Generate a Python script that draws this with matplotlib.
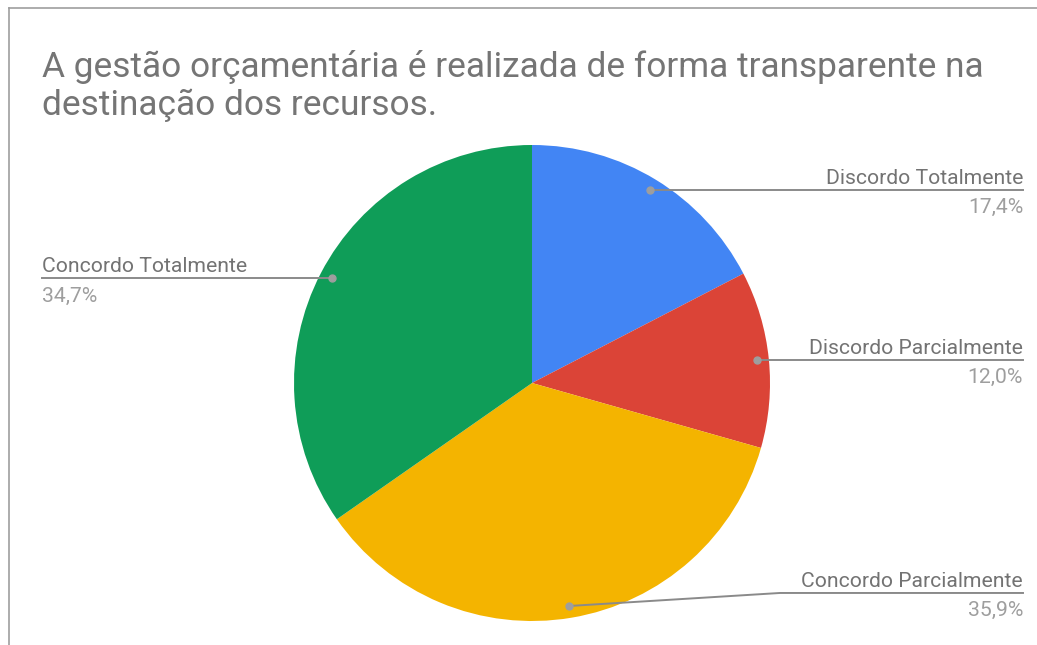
import numpy as np
import matplotlib.pyplot as plt
from matplotlib.lines import Line2D

# Data
labels = ['Discordo Totalmente', 'Discordo Parcialmente', 'Concordo Parcialmente', 'Concordo Totalmente']
shares = [17.4, 12.0, 35.9, 34.7]
colors = ['#4285F4', '#DB4437', '#F4B400', '#0F9D58']
pct_text = ['17,4%', '12,0%', '35,9%', '34,7%']
title_lines = ['A gestão orçamentária é realizada de forma transparente na',
               'destinação dos recursos.']

plt.rcParams['font.family'] = ['Roboto', 'DejaVu Sans']

W, H = 1037, 645
fig = plt.figure(figsize=(W / 100, H / 100), dpi=100)

# frame lines (top and left) like the screenshot
fig.add_artist(Line2D([9 / W, 1], [1 - 8 / H, 1 - 8 / H], color='#9e9e9e', lw=1.2))
fig.add_artist(Line2D([9 / W, 9 / W], [0, 1 - 8 / H], color='#9e9e9e', lw=1.2))

# title, one baseline per line
for i, t in enumerate(title_lines):
    fig.text(42 / W, 1 - (77 + 38 * i) / H, t, fontsize=25.4, color='#757575',
             va='baseline', ha='left')

# pie axes: center (532, 383) px, radius 238 px
cx, cy, r = 532, 383, 238
ax = fig.add_axes([(cx - r) / W, (H - cy - r) / H, 2 * r / W, 2 * r / H])
wedges, _ = ax.pie(shares, colors=colors, startangle=90, counterclock=False, radius=1,
                   wedgeprops=dict(linewidth=0))
ax.set_xlim(-1, 1)
ax.set_ylim(-1, 1)
ax.set_aspect('equal')
ax.axis('off')

line_c = '#8a8a8a'
name_c = '#737373'
pct_c = '#9e9e9e'
x_right = (1023 - cx) / r
x_left = (42 - cx) / r
for w, name, pct in zip(wedges, labels, pct_text):
    mid = np.deg2rad((w.theta1 + w.theta2) / 2)
    dx, dy = 0.95 * np.cos(mid), 0.95 * np.sin(mid)
    if dx >= 0:
        xe = x_right
        ha = 'right'
    else:
        xe = x_left
        ha = 'left'
    ly = dy
    if dy < -0.9:
        # bottom label is pushed up and bent
        ly = dy + 13 / r
        elbow = (780 - cx) / r
        ax.plot([dx, elbow, xe], [dy, ly, ly], color=line_c, lw=1.4, clip_on=False)
    else:
        ax.plot([dx, xe], [dy, ly], color=line_c, lw=1.4, clip_on=False)
    ax.plot([dx], [dy], 'o', color='#9e9e9e', ms=5, clip_on=False)
    ax.text(xe, ly + 6 / r, name, ha=ha, va='baseline', fontsize=15.2, color=name_c)
    ax.text(xe, ly - 8 / r, pct, ha=ha, va='top', fontsize=15.2, color=pct_c)

fig.savefig('out.png', dpi=100, facecolor='white')
